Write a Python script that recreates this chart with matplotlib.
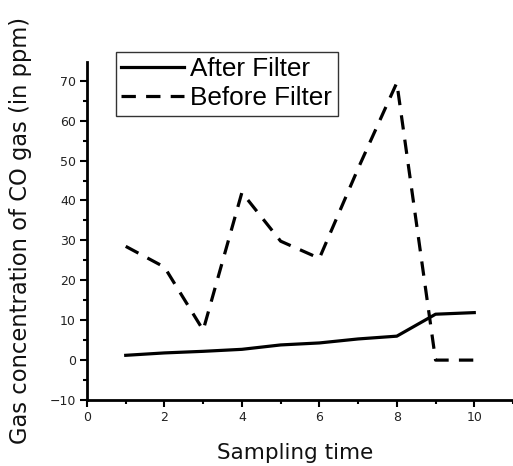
import matplotlib
matplotlib.use("Agg")
import matplotlib.pyplot as plt
from matplotlib.ticker import MultipleLocator

x = [1, 2, 3, 4, 5, 6, 7, 8, 9, 10]
after_filter = [1.2, 1.8, 2.2, 2.7, 3.8, 4.3, 5.3, 6.0, 11.5, 11.9]
before_filter = [28.5, 23.3, 7.5, 42.0, 29.8, 25.5, 48.0, 69.5, 0.0, 0.0]

fig = plt.figure(figsize=(5.13, 4.66), dpi=100)
ax = fig.add_axes([0.1696, 0.1416, 0.8304, 0.7254])

ax.plot(x, after_filter, color="black", lw=2.3, label="After Filter")
ax.plot(x, before_filter, color="black", lw=2.3, dashes=(4.5, 3.2), label="Before Filter")

ax.set_xlim(0, 11)
ax.set_ylim(-10, 74.7)
ax.xaxis.set_major_locator(MultipleLocator(2))
ax.xaxis.set_minor_locator(MultipleLocator(1))
ax.yaxis.set_major_locator(MultipleLocator(10))
ax.yaxis.set_minor_locator(MultipleLocator(5))

for s in ["top", "right"]:
    ax.spines[s].set_visible(False)
for s in ["left", "bottom"]:
    ax.spines[s].set_linewidth(2.0)

ax.tick_params(which="major", direction="out", length=5, width=1.5, labelsize=9, pad=3,
               labelcolor="#222222")
ax.tick_params(which="minor", direction="out", length=3, width=1.5)

ax.set_xlabel("Sampling time", fontsize=15.5, va="baseline", color="#111111")
ax.set_ylabel("Gas concentration of CO gas (in ppm)", fontsize=16.3, color="#111111")
ax.xaxis.set_label_coords(0.489, -0.175)
ax.yaxis.set_label_coords(-0.128, 0.503)

leg = ax.legend(loc="upper left", bbox_to_anchor=(116 / 513, 1 - 52 / 466),
                bbox_transform=fig.transFigure, frameon=True, fancybox=False,
                edgecolor="black", prop={"family": "Liberation Sans", "size": 18.8},
                handlelength=2.4, handletextpad=0.25, borderpad=0.2, labelspacing=0.2,
                borderaxespad=0)
leg.get_frame().set_linewidth(1.0)

fig.savefig("out.png", dpi=100)
